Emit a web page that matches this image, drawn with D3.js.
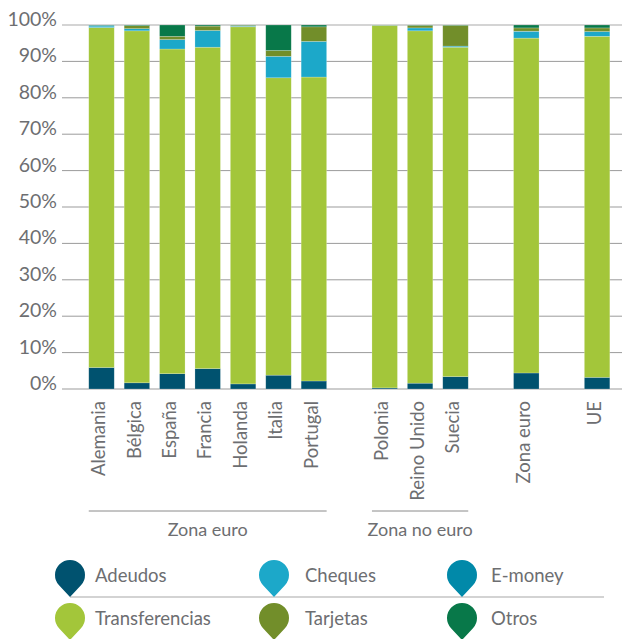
<!DOCTYPE html>
<html>
<head>
<meta charset="utf-8">
<script src="https://cdn.jsdelivr.net/npm/d3@7.9.0/dist/d3.min.js"></script>
<style>
  body { margin: 0; background: #fff; }
  svg { display: block; font-family: Lato, 'Open Sans', sans-serif; }
</style>
</head>
<body>
<div id="chart"></div>
<script>
// data (percent of transactions)
const countries = ['Alemania', 'Bélgica', 'España', 'Francia', 'Holanda', 'Italia', 'Portugal',
    'Polonia', 'Reino Unido', 'Suecia', 'Zona euro', 'UE'];
const adeudos        = [5.9, 1.7, 4.2, 5.6, 1.4, 3.8, 2.2, 0.3, 1.6, 3.4, 4.4, 3.2];
const transferencias = [93.4, 96.7, 89.2, 88.3, 98.1, 81.7, 83.5, 99.5, 96.8, 90.5, 92.0, 93.7];
const cheques        = [0.4, 0.6, 2.6, 4.6, 0.1, 5.9, 9.8, 0.1, 0.8, 0.3, 1.8, 1.3];
const emoney         = [0.2, 0, 0, 0, 0.1, 0, 0, 0, 0, 0, 0.1, 0];
const tarjetas       = [0, 0.8, 0.9, 1.2, 0.2, 1.6, 4.0, 0.1, 0.7, 5.7, 0.9, 1.0];
const otros          = [0.1, 0.2, 3.1, 0.3, 0.1, 7.0, 0.5, 0, 0.1, 0.1, 0.8, 0.8];

const seriesNames = ['Adeudos', 'Transferencias', 'Cheques', 'E-money', 'Tarjetas', 'Otros'];
const seriesColors = ['#00526f', '#a3c63a', '#1ca8c9', '#0189a9', '#728e2a', '#087849'];
const yTicks = [0, 10, 20, 30, 40, 50, 60, 70, 80, 90, 100];

// slots along the x axis, blanks separate the groups
const slots = ['Alemania', 'Bélgica', 'España', 'Francia', 'Holanda', 'Italia', 'Portugal', '_g1',
    'Polonia', 'Reino Unido', 'Suecia', '_g2', 'Zona euro', '_g3', 'UE'];
const groups = [
    { label: 'Zona euro', first: 'Alemania', last: 'Portugal' },
    { label: 'Zona no euro', first: 'Polonia', last: 'Suecia' }
];
// legend order: two rows of three
const legendOrder = ['Adeudos', 'Cheques', 'E-money', 'Transferencias', 'Tarjetas', 'Otros'];

const table = countries.map((c, i) => ({
    country: c,
    'Adeudos': adeudos[i],
    'Transferencias': transferencias[i],
    'Cheques': cheques[i],
    'E-money': emoney[i],
    'Tarjetas': tarjetas[i],
    'Otros': otros[i]
}));

const width = 625;
const height = 639;
const textColor = '#6d6e71';

const svg = d3.select('#chart')
    .append('svg')
    .attr('width', width)
    .attr('height', height)
    .attr('viewBox', `0 0 ${width} ${height}`);

const xScale = d3.scaleBand()
    .domain(slots)
    .range([83.8, 614.8])
    .paddingInner(0.28)
    .paddingOuter(0.14);

const yScale = d3.scaleLinear()
    .domain([0, 100])
    .range([389, 25]);

const color = d3.scaleOrdinal().domain(seriesNames).range(seriesColors);

// gridlines
const grid = svg.append('g').attr('class', 'gridlines');
grid.selectAll('line')
    .data(yTicks)
    .enter()
    .append('line')
    .attr('x1', 62)
    .attr('x2', 622)
    .attr('y1', d => yScale(d))
    .attr('y2', d => yScale(d))
    .attr('stroke', d => d === 100 ? '#c6c6c6' : '#9b9b9b')
    .attr('stroke-width', d => d === 100 ? 1.6 : 1);

// y labels
svg.append('g')
    .attr('class', 'y-axis')
    .selectAll('text')
    .data(yTicks)
    .enter()
    .append('text')
    .attr('x', 57)
    .attr('y', d => yScale(d) + 1)
    .attr('text-anchor', 'end')
    .attr('font-size', '19.5px')
    .attr('fill', textColor)
    .text(d => d + '%');

// stacked bars
const stacked = d3.stack().keys(seriesNames)(table);

svg.append('g')
    .attr('class', 'bars')
    .selectAll('g')
    .data(stacked)
    .enter()
    .append('g')
    .attr('fill', d => color(d.key))
    .selectAll('rect')
    .data(d => d)
    .enter()
    .append('rect')
    .attr('x', d => xScale(d.data.country))
    .attr('width', xScale.bandwidth())
    .attr('y', d => yScale(d[1]))
    .attr('height', d => Math.max(0, yScale(d[0]) - yScale(d[1])))
    .attr('stroke', '#ffffff')
    .attr('stroke-opacity', 0.35)
    .attr('stroke-width', 0.6);

// x labels, rotated
svg.append('g')
    .attr('class', 'x-axis')
    .selectAll('text')
    .data(countries)
    .enter()
    .append('text')
    .attr('transform', d => `translate(${xScale(d) + xScale.bandwidth() / 2 - 3}, 401) rotate(-90)`)
    .attr('text-anchor', 'end')
    .attr('dy', '0.36em')
    .attr('font-size', '18.5px')
    .attr('fill', textColor)
    .text(d => d);

// group brackets
const grp = svg.append('g').attr('class', 'groups');
grp.selectAll('line')
    .data(groups)
    .enter()
    .append('line')
    .attr('x1', d => xScale(d.first))
    .attr('x2', d => xScale(d.last) + xScale.bandwidth())
    .attr('y1', 511)
    .attr('y2', 511)
    .attr('stroke', '#8a8a8a')
    .attr('stroke-width', 1);

grp.selectAll('text')
    .data(groups)
    .enter()
    .append('text')
    .attr('x', d => (xScale(d.first) + xScale(d.last) + xScale.bandwidth()) / 2)
    .attr('y', 536)
    .attr('text-anchor', 'middle')
    .attr('font-size', '18px')
    .attr('fill', textColor)
    .text(d => d.label);

// legend with pin markers
function pinPath(cx, cy, r, d) {
    const cosA = r / d;
    const sinA = Math.sqrt(1 - cosA * cosA);
    const lx = cx - r * sinA, rx = cx + r * sinA, py = cy + r * cosA;
    return `M${cx},${cy + d} L${lx},${py} A${r},${r} 0 1 1 ${rx},${py} Z`;
}

const markerCols = [70, 274, 462];
const textCols = [95, 305, 491];
const legendRows = [575, 618];

const legend = svg.append('g').attr('class', 'legend');

legend.append('line')
    .attr('x1', 70)
    .attr('x2', 604)
    .attr('y1', 597)
    .attr('y2', 597)
    .attr('stroke', '#c4c4c4')
    .attr('stroke-width', 1.5);

const legendItem = legend.selectAll('.legend-item')
    .data(legendOrder)
    .enter()
    .append('g')
    .attr('class', 'legend-item');

legendItem.append('path')
    .attr('transform', (d, i) => `translate(${markerCols[i % 3]}, ${legendRows[Math.floor(i / 3)]})`)
    .attr('d', pinPath(0, 0, 15, 22))
    .attr('fill', d => color(d));

legendItem.append('text')
    .attr('x', (d, i) => textCols[i % 3])
    .attr('y', (d, i) => legendRows[Math.floor(i / 3)])
    .attr('dy', '0.36em')
    .attr('font-size', '18.5px')
    .attr('fill', textColor)
    .text(d => d);
</script>
</body>
</html>
